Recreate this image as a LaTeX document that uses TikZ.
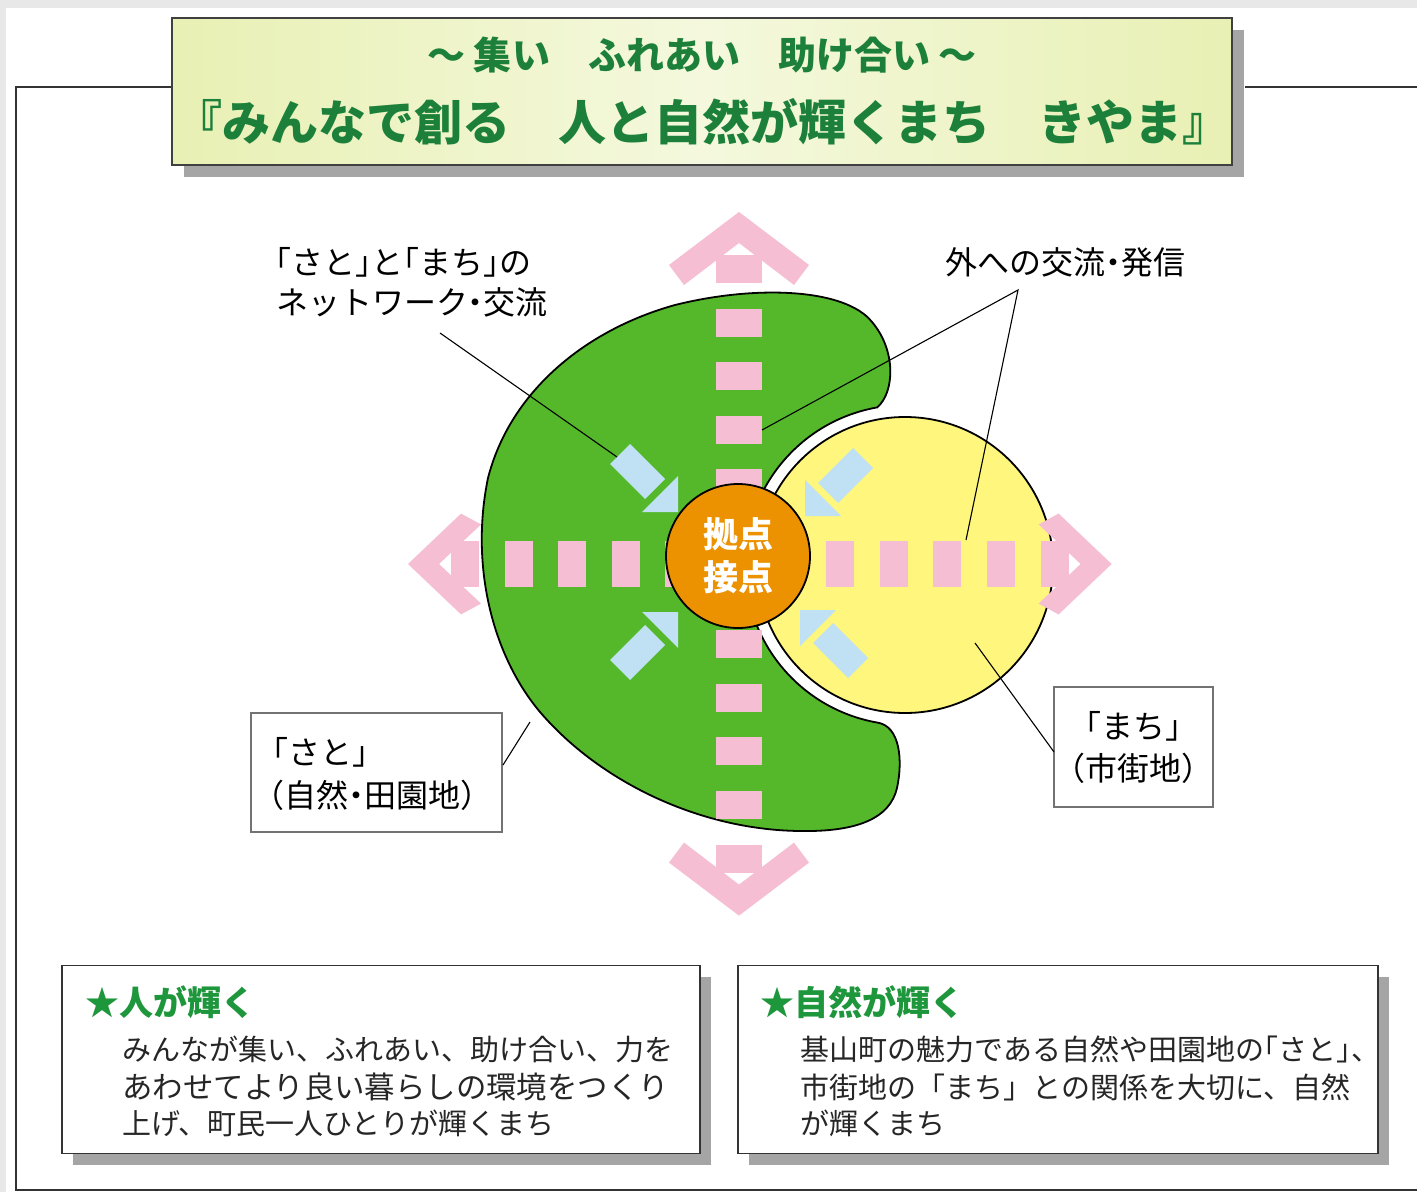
\documentclass[tikz,border=0pt]{standalone}
\usepackage{fontspec}
\newfontfamily\jp{Noto Sans CJK JP}
\newfontfamily\jph[RawFeature=+halt]{Noto Sans CJK JP}
\definecolor{grn}{RGB}{84,184,42}
\definecolor{ylw}{RGB}{255,246,125}
\definecolor{org}{RGB}{236,145,0}
\definecolor{pnk}{RGB}{246,190,210}
\definecolor{blu}{RGB}{192,224,244}
\definecolor{ttl}{RGB}{28,128,58}
\definecolor{ttlbg}{RGB}{232,240,180}
\definecolor{starg}{RGB}{30,150,60}
\definecolor{shd}{RGB}{165,165,165}
\definecolor{pagebg}{RGB}{232,232,232}
\newcommand\setfs[2]{\fontsize{#1}{#2}\selectfont}
\newcommand\pinkhead[4]{\fill[pnk,shift={(#1,#2)},rotate=#3,xscale=#4] (0,0) -- (70,53) -- (55,73) -- (0,31) -- (-55,73) -- (-70,53) -- cycle;}
\newcommand\bluearrow[4]{%
  \fill[blu] (#1,#2) -- ({#1+36*#3},#2) -- (#1,{#2+36*#4}) -- cycle;
  \fill[blu] ({#1+23*#3+10*#4},{#2+23*#4-10*#3}) -- ({#1+58*#3+10*#4},{#2+58*#4-10*#3})
     -- ({#1+58*#3-10*#4},{#2+58*#4+10*#3}) -- ({#1+23*#3-10*#4},{#2+23*#4+10*#3}) -- cycle;}
\tikzset{
  frameline/.style={draw=black!80, line width=0.9pt},
  leader/.style={draw=black, line width=0.55pt},
  lbox/.style={draw=black!55, line width=0.9pt, fill=white, inner sep=0pt},
  bigbox/.style={draw=black!80, line width=0.9pt, fill=white, inner sep=0pt, minimum height=94pt},
  lbl/.style={inner sep=0pt, font=\jph\setfs{16}{21}},
  body/.style={inner sep=0pt, anchor=west, font=\jp\setfs{14.5}{18}, text=black!85},
  head/.style={inner sep=0pt, anchor=west, font=\jp\bfseries\setfs{17}{20}, text=starg}
}
\begin{document}
\begin{tikzpicture}[x=0.5pt,y=-0.5pt]
\useasboundingbox (0,0) rectangle (1417,1192);
\fill[pagebg] (0,0) rectangle (1417,1192);
\fill[white] (6,8) rectangle (1417,1192);
% outer frame
\draw[frameline] (172,87) -- (16,87) -- (16,1190) -- (1417,1190);
\draw[frameline] (1245,87) -- (1417,87);
% title
\fill[shd] (184,30) rectangle (1244,177);
\node[draw=black!75, line width=0.8pt, minimum width=530pt, minimum height=73.5pt,
      left color=ttlbg, right color=ttlbg, middle color=white!55!ttlbg, inner sep=0pt] (title) at (702,91.5) {};
\node[inner sep=0pt, font=\jp\bfseries\setfs{19}{22}, text=ttl] (t1) at (702,55) {～ 集い　ふれあい　助け合い ～};
\node[inner sep=0pt, font=\jp\bfseries\setfs{24}{28}, text=ttl] (t2) at (702,122) {『みんなで創る　人と自然が輝くまち　きやま』};
% green sato shape
\fill[grn, draw=black, line width=0.9pt]
  (877.2,407.4) arc[start angle=260, end angle=100, radius=160]
  .. controls (900,726) and (903,760) .. (897,788)
  .. controls (890,818) and (858,832) .. (800,831)
  .. controls (700,830) and (600,782) .. (540,712)
  .. controls (492,655) and (470,565) .. (488,478)
  .. controls (510,392) and (585,330) .. (675,305)
  .. controls (755,285) and (845,288) .. (872,322)
  .. controls (896,350) and (895,392) .. (877.2,407.4) -- cycle;
% yellow machi circle
\node[circle, fill=ylw, draw=black, line width=0.9pt, minimum size=148pt, inner sep=0pt] (machi) at (905,565) {};
% pink dashed network
\foreach \i in {0,...,11} \fill[pnk] (716,{255+53.6*\i}) rectangle (762,{283+53.6*\i});
\foreach \i in {0,...,11} \fill[pnk] ({451+53.6*\i},541) rectangle ({479+53.6*\i},587);
\pinkhead{739}{212}{0}{1}
\pinkhead{739}{915.6}{180}{1}
\pinkhead{408}{564}{90}{0.72}
\pinkhead{1111.6}{564}{-90}{0.72}
% blue arrows
\bluearrow{678}{512}{-1}{-1}
\bluearrow{678}{612}{-1}{1}
\bluearrow{805}{516}{1}{-1}
\bluearrow{800}{610}{1}{1}
% hub
\node[circle, fill=org, draw=black, line width=0.9pt, minimum size=72pt, inner sep=0pt, align=center,
      text=white, font=\jp\bfseries\setfs{17.5}{21.5}] (hub) at (738,556) {拠点\\接点};
% labels
\node[lbl, anchor=west] (netlbl1) at (275,262) {「さと」と「まち」の};
\node[lbl, anchor=west] (netlbl2) at (276,302) {ネットワーク・交流};
\node[lbl, anchor=west] (outlbl) at (945,262) {外への交流・発信};
\node[lbox, minimum width=125.5pt, minimum height=59.5pt] (satobox) at (376.5,772.5) {};
\node[lbl, anchor=west] (sato1) at (272,752) {「さと」};
\node[lbl, anchor=west] (sato2) at (268,795) {（自然・田園地）};
\node[lbox, minimum width=79.5pt, minimum height=60pt, align=center, font=\jph\setfs{16}{21}] (machibox) at (1133.5,747) {「まち」\\（市街地）};
% leaders
\coordinate (netA) at (440,333);
\coordinate (netB) at (617,457);
\coordinate (outA) at (1018,290);
\coordinate (outB) at (762,430);
\coordinate (outC) at (966,540);
\coordinate (satoA) at (503,765);
\coordinate (satoB) at (530,722);
\coordinate (machiA) at (1054,752);
\coordinate (machiB) at (975,643);
\draw[leader] (netA) -- (netB);
\draw[leader] (outB) -- (outA) -- (outC);
\draw[leader] (satoA) -- (satoB);
\draw[leader] (machiA) -- (machiB);
% bottom boxes
\fill[shd] (73,977) rectangle (711,1165);
\node[bigbox, minimum width=319pt] (boxL) at (381,1059.5) {};
\fill[shd] (749,977) rectangle (1389,1165);
\node[bigbox, minimum width=320pt] (boxR) at (1058,1059.5) {};
\node[head] (hL) at (85,1002) {★人が輝く};
\node[body] (bL1) at (122,1049) {みんなが集い、ふれあい、助け合い、力を};
\node[body, font=\jp\setfs{15.2}{18}] (bL2) at (122,1087) {あわせてより良い暮らしの環境をつくり};
\node[body] (bL3) at (122,1123) {上げ、町民一人ひとりが輝くまち};
\node[head] (hR) at (760,1002) {★自然が輝く};
\node[body] (bR1) at (800,1049) {基山町の魅力である自然や田園地の{\addfontfeatures{RawFeature=+halt}「さと」、}};
\node[body] (bR2) at (800,1087) {市街地の「まち」との関係を大切に、自然};
\node[body] (bR3) at (800,1123) {が輝くまち};
\end{tikzpicture}
\end{document}
